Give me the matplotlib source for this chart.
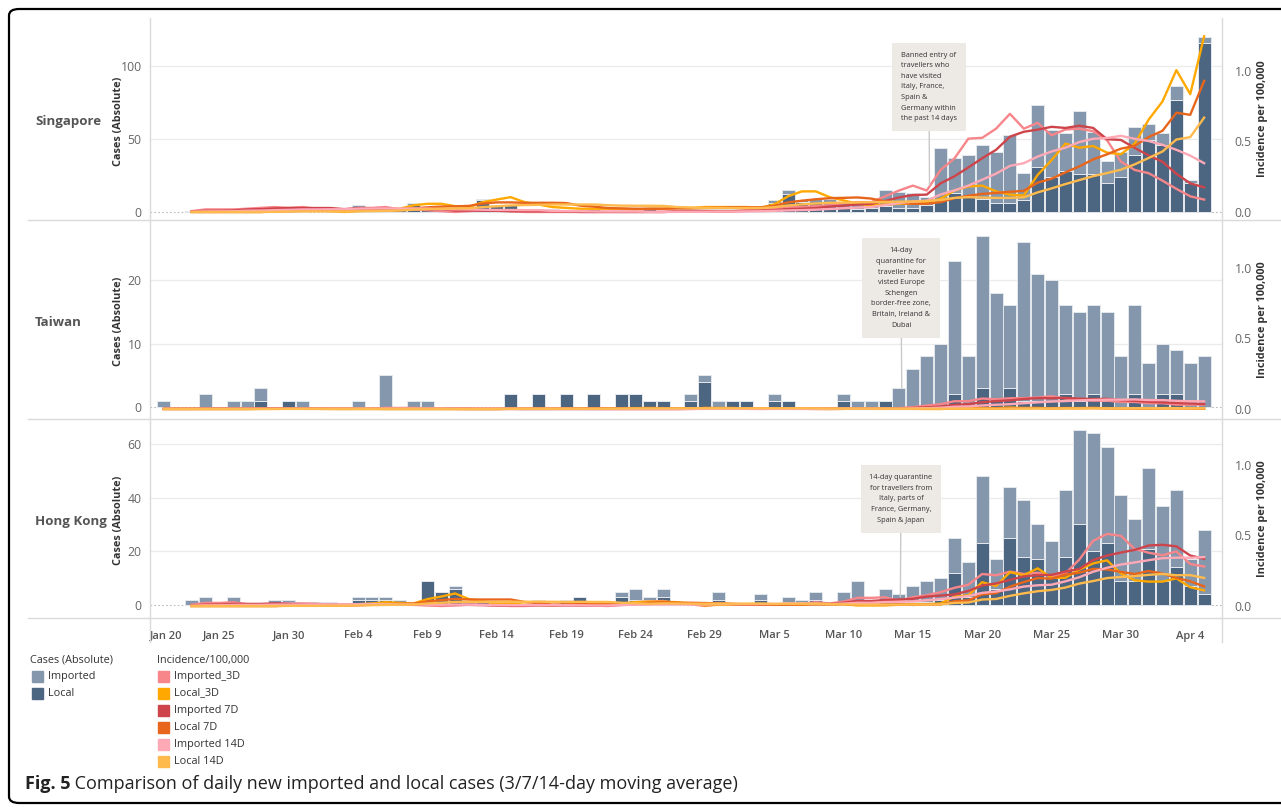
import numpy as np
import matplotlib.pyplot as plt
from matplotlib.patches import FancyBboxPatch, Rectangle
from matplotlib.lines import Line2D

plt.rcParams['font.family'] = ['Open Sans', 'DejaVu Sans']

W, H = 1281, 810

# day index: 0 = Jan 20 ... 76 = Apr 5
days = np.arange(1, 77)
tick_days = [0, 5, 10, 15, 20, 25, 30, 35, 40, 45, 50, 55, 60, 65, 70, 75]
tick_labels = ['Jan 20', 'Jan 25', 'Jan 30', 'Feb 4', 'Feb 9', 'Feb 14', 'Feb 19', 'Feb 24',
               'Feb 29', 'Mar 5', 'Mar 10', 'Mar 15', 'Mar 20', 'Mar 25', 'Mar 30', 'Apr 4']

# ---------------- Singapore ----------------
sg_imported = [0, 0, 1, 2, 0, 1, 3, 1, 2, 2, 2, 0, 1, 0, 4, 1, 1, 1, 1, 0,
               0, 0, 1, 1, 0, 0, 0, 0, 0, 0, 0, 0, 0, 0, 0, 0, 0, 1, 0, 0,
               1, 0, 1, 1, 2, 3, 1, 3, 4, 4, 4, 4, 11, 11, 10, 5, 36, 24, 29, 37,
               35, 47, 19, 42, 32, 26, 43, 29, 15, 17, 19, 11, 8, 9, 2, 4]
sg_local = [0, 0, 0, 0, 0, 0, 0, 0, 1, 1, 1, 0, 0, 0, 1, 1, 1, 2, 5, 3,
            2, 2, 2, 8, 5, 5, 2, 2, 2, 1, 1, 2, 1, 1, 1, 2, 1, 2, 2, 2,
            2, 2, 2, 1, 6, 12, 7, 6, 5, 3, 2, 3, 4, 3, 3, 5, 8, 13, 10, 9,
            6, 6, 8, 31, 24, 28, 26, 26, 20, 24, 39, 49, 46, 77, 20, 116]
sg_line_start = 3
sg_imp_3d = [.006, .018, .018, .018, .023, .029, .035, .029,
             .035, .023, .018, .006, .029, .029, .035, .018, .018, .012,
             .006, 0, .006, .012, .012, .006, 0, 0, 0, 0,
             0, 0, 0, 0, 0, 0, 0, .006, .006, .006,
             .006, .006, .012, .012, .023, .035, .035, .041, .047, .064,
             .070, .070, .111, .152, .187, .152, .298, .380, .520, .526,
             .591, .696, .591, .632, .544, .585, .591, .573, .509, .357,
             .298, .275, .222, .164, .111, .088]
sg_loc_3d = [0, 0, 0, 0, 0, 0, .006, .012,
             .018, .012, .006, 0, .006, .012, .018, .023, .047, .058,
             .058, .041, .035, .070, .088, .105, .070, .053, .035, .029,
             .023, .023, .023, .023, .018, .023, .023, .029, .029, .035,
             .035, .035, .035, .029, .053, .111, .146, .146, .105, .082,
             .058, .047, .053, .058, .058, .064, .094, .152, .181, .187,
             .146, .123, .117, .263, .368, .485, .456, .468, .421, .409,
             .485, .655, .784, 1.006, .836, 1.246]
sg_imp_7d = [.003, .008, .008, .010, .018, .020, .025, .028,
             .028, .028, .028, .020, .028, .025, .023, .020, .023, .020,
             .020, .010, .010, .010, .008, .005, .005, .005, .005, .003,
             0, 0, 0, 0, 0, 0, 0, .003, .003, .003,
             .005, .005, .008, .010, .013, .020, .023, .028, .038, .045,
             .053, .058, .078, .103, .120, .123, .203, .253, .316, .381,
             .441, .534, .569, .584, .604, .596, .612, .596, .516, .511,
             .454, .401, .356, .271, .203, .175]
sg_loc_7d = [0, 0, 0, 0, 0, 0, .003, .005,
             .008, .008, .008, .008, .010, .010, .010, .013, .025, .033,
             .038, .040, .043, .060, .068, .068, .065, .065, .065, .063,
             .045, .038, .028, .025, .023, .023, .023, .025, .025, .028,
             .030, .033, .033, .033, .043, .068, .080, .090, .098, .100,
             .103, .095, .075, .065, .058, .058, .070, .098, .115, .128,
             .135, .143, .150, .208, .236, .281, .323, .373, .409, .449,
             .469, .531, .576, .704, .689, .930]
sg_imp_14d = [.001, .004, .004, .005, .009, .010, .013, .015,
              .018, .018, .019, .019, .024, .025, .025, .024, .025, .024,
              .020, .019, .018, .016, .014, .014, .013, .013, .008, .006,
              .005, .004, .003, .003, .003, .001, 0, .001, .001, .001,
              .003, .003, .004, .005, .008, .011, .013, .016, .021, .026,
              .031, .035, .049, .063, .074, .080, .124, .153, .187, .229,
              .272, .327, .346, .393, .429, .456, .496, .519, .525, .540,
              .519, .503, .476, .441, .400, .346]
sg_loc_14d = [0, 0, 0, 0, 0, 0, .001, .003,
              .004, .004, .004, .004, .005, .006, .008, .010, .016, .020,
              .023, .025, .026, .035, .040, .046, .049, .051, .053, .053,
              .053, .053, .048, .045, .044, .044, .043, .035, .031, .028,
              .028, .028, .028, .028, .034, .046, .054, .060, .065, .066,
              .068, .069, .071, .073, .074, .078, .085, .100, .105, .102,
              .100, .100, .104, .139, .167, .198, .226, .254, .276, .300,
              .338, .383, .429, .514, .531, .669]

# ---------------- Taiwan ----------------
tw_imported = [1, 0, 0, 2, 0, 1, 1, 2, 0, 0, 1, 0, 0, 0, 1, 0, 5, 0, 1, 1,
               0, 0, 0, 0, 0, 0, 0, 0, 0, 0, 0, 0, 0, 0, 0, 0, 0, 0, 1, 1,
               1, 0, 0, 0, 1, 0, 0, 0, 0, 1, 1, 1, 0, 3, 6, 8, 10, 21, 8, 24,
               17, 13, 25, 20, 19, 14, 14, 14, 14, 8, 14, 7, 8, 7, 7, 8]
tw_local = [0, 0, 0, 0, 0, 0, 0, 1, 0, 1, 0, 0, 0, 0, 0, 0, 0, 0, 0, 0,
            0, 0, 0, 0, 0, 2, 0, 2, 0, 2, 0, 2, 0, 2, 2, 1, 1, 0, 1, 4,
            0, 1, 1, 0, 1, 1, 0, 0, 0, 1, 0, 0, 1, 0, 0, 0, 0, 2, 0, 3,
            1, 3, 1, 1, 1, 2, 1, 2, 1, 0, 2, 0, 2, 2, 0, 0]
tw_line_start = 1
tw_imp_3d = [.001, .001, .001, .003, .003, .004, .003, .006, .004, .003,
             .001, .001, .001, 0, .001, .001, .008, .007, .008, .003,
             .003, .001, 0, 0, 0, 0, 0, 0, 0, 0,
             0, 0, 0, 0, 0, 0, 0, 0, .001, .003,
             .004, .003, .001, 0, .001, .001, .001, 0, 0, .001,
             .003, .004, .003, .006, .013, .024, .034, .055, .055, .074,
             .069, .076, .077, .081, .090, .074, .066, .059, .059, .050,
             .050, .041, .041, .031, .031, .031]
tw_loc_3d = [0, 0, 0, 0, 0, 0, 0, .001, .001, .003,
             .001, .001, 0, 0, 0, 0, 0, 0, 0, 0,
             0, 0, 0, 0, 0, .003, .003, .006, .003, .006,
             .003, .006, .003, .006, .006, .007, .006, .003, .003, .007,
             .007, .007, .003, .003, .003, .003, .003, .001, 0, .001,
             .001, .001, .001, .001, .001, 0, 0, .003, .003, .007,
             .006, .010, .007, .007, .004, .006, .006, .007, .006, .004,
             .004, .003, .006, .006, .006, .003]
tw_imp_7d = [.001, .001, .001, .002, .002, .002, .003, .004, .004, .004,
             .003, .003, .002, .002, .001, .001, .004, .004, .004, .005,
             .005, .004, .004, .001, .001, .001, 0, 0, 0, 0,
             0, 0, 0, 0, 0, 0, 0, 0, .001, .001,
             .002, .002, .002, .002, .002, .001, .001, .001, .001, .001,
             .002, .002, .002, .004, .007, .012, .017, .029, .034, .048,
             .056, .061, .071, .077, .076, .079, .073, .071, .072, .062,
             .058, .051, .047, .043, .039, .035]
tw_loc_7d = [0, 0, 0, 0, 0, 0, 0, .001, .001, .001,
             .001, .001, .001, .001, .001, .001, 0, 0, 0, 0,
             0, 0, 0, 0, 0, .001, .001, .002, .002, .004,
             .004, .005, .004, .005, .005, .005, .005, .005, .004, .007,
             .005, .005, .005, .004, .005, .005, .002, .002, .002, .002,
             .002, .001, .001, .001, .001, .001, .001, .002, .002, .003,
             .004, .005, .006, .007, .006, .007, .006, .007, .005, .005,
             .005, .005, .005, .005, .004, .004]
tw_imp_14d = [0, 0, 0, .001, .001, .001, .002, .002, .002, .002,
              .002, .002, .002, .002, .002, .002, .004, .004, .004, .004,
              .004, .003, .003, .003, .002, .002, .002, .002, .002, .002,
              .001, .001, 0, 0, 0, 0, 0, 0, 0, .001,
              .001, .001, .001, .001, .001, .001, .001, .001, .001, .002,
              .002, .002, .002, .002, .004, .006, .009, .016, .018, .025,
              .030, .034, .041, .047, .053, .056, .061, .064, .066, .066,
              .068, .063, .063, .058, .055, .054]
tw_loc_14d = [0, 0, 0, 0, 0, 0, 0, 0, 0, .001,
              .001, .001, .001, .001, .001, .001, .001, .001, .001, .001,
              .001, 0, 0, 0, 0, .001, .001, .001, .001, .002,
              .002, .002, .002, .003, .004, .004, .004, .004, .005, .005,
              .005, .005, .005, .005, .005, .005, .005, .004, .003, .003,
              .003, .003, .003, .002, .002, .002, .001, .002, .002, .002,
              .002, .003, .004, .004, .004, .005, .005, .005, .005, .005,
              .006, .005, .006, .006, .005, .005]

# ---------------- Hong Kong ----------------
hk_imported = [0, 0, 2, 3, 0, 3, 0, 0, 2, 1, 1, 1, 0, 0, 1, 1, 1, 1, 0, 0,
               0, 1, 1, 0, 0, 0, 0, 1, 0, 1, 0, 0, 0, 2, 4, 1, 3, 0, 0, 0,
               3, 0, 0, 2, 0, 2, 1, 3, 0, 4, 9, 0, 5, 3, 6, 8, 8, 13, 13, 25,
               11, 19, 21, 13, 14, 25, 35, 44, 36, 32, 23, 30, 28, 29, 10, 24]
hk_local = [0, 0, 0, 0, 0, 0, 0, 0, 0, 1, 0, 0, 1, 0, 2, 2, 2, 1, 1, 9,
            5, 6, 0, 2, 1, 1, 0, 1, 0, 1, 3, 0, 1, 3, 2, 2, 3, 1, 0, 0,
            2, 0, 0, 2, 0, 1, 1, 2, 0, 1, 0, 0, 1, 1, 1, 1, 2, 12, 3, 23,
            6, 25, 18, 17, 10, 18, 30, 20, 23, 9, 9, 21, 9, 14, 7, 4]
hk_line_start = 3
hk_imp_3d = [.009, .022, .022, .027, .013, .013, .009, .013,
             .018, .013, .009, .004, .004, .009, .013, .013, .009, .004,
             0, .004, .009, .009, .004, 0, 0, .004, .004, .009,
             .004, .004, 0, .009, .027, .031, .036, .018, .013, 0,
             .013, .013, .013, .009, .009, .018, .013, .027, .018, .031,
             .058, .058, .062, .036, .062, .076, .098, .129, .151, .227,
             .218, .244, .227, .236, .213, .231, .329, .462, .511, .498,
             .404, .378, .360, .387, .298, .280]
hk_loc_3d = [0, 0, 0, 0, 0, 0, 0, .004,
             .004, .004, .004, .004, .013, .018, .027, .022, .018, .049,
             .067, .089, .049, .036, .013, .018, .009, .009, .004, .009,
             .018, .018, .018, .018, .027, .031, .031, .027, .018, .004,
             .009, .009, .009, .009, .009, .013, .009, .018, .013, .013,
             .004, .004, .004, .009, .013, .013, .018, .067, .076, .169,
             .142, .240, .218, .267, .200, .200, .258, .302, .324, .231,
             .182, .173, .173, .196, .133, .111]
hk_imp_7d = [.004, .010, .010, .015, .015, .015, .019, .017,
             .013, .015, .010, .010, .011, .010, .010, .010, .008, .008,
             .008, .008, .008, .006, .004, .004, .004, .006, .004, .004,
             .004, .004, .004, .008, .013, .015, .019, .019, .019, .019,
             .021, .013, .011, .010, .010, .013, .015, .015, .015, .023,
             .036, .036, .042, .046, .051, .067, .074, .082, .107, .145,
             .160, .185, .210, .219, .221, .244, .263, .326, .358, .379,
             .398, .429, .434, .423, .358, .335]
hk_loc_7d = [0, 0, 0, 0, 0, 0, 0, .002,
             .002, .002, .004, .004, .008, .011, .013, .015, .017, .032,
             .042, .050, .046, .046, .046, .046, .029, .021, .010, .011,
             .013, .011, .011, .017, .019, .023, .027, .023, .023, .021,
             .019, .015, .011, .010, .008, .010, .011, .011, .011, .013,
             .010, .010, .010, .010, .008, .010, .011, .034, .040, .082,
             .091, .137, .170, .198, .194, .223, .236, .263, .259, .242,
             .227, .248, .230, .200, .175, .139]
hk_imp_14d = [.002, .005, .005, .008, .008, .008, .010, .010,
              .011, .012, .012, .012, .013, .014, .013, .011, .011, .009,
              .009, .010, .009, .008, .007, .006, .006, .007, .006, .006,
              .005, .004, .004, .006, .010, .010, .011, .011, .011, .011,
              .014, .013, .013, .014, .014, .016, .017, .018, .014, .017,
              .023, .023, .028, .030, .033, .041, .049, .059, .071, .093,
              .103, .118, .138, .147, .151, .175, .204, .243, .271, .294,
              .309, .325, .339, .343, .342, .347]
hk_loc_14d = [0, 0, 0, 0, 0, 0, 0, .001,
              .001, .001, .002, .002, .004, .006, .008, .009, .010, .018,
              .023, .029, .029, .030, .030, .031, .030, .031, .030, .029,
              .030, .029, .029, .023, .020, .016, .019, .018, .017, .016,
              .018, .017, .017, .018, .015, .016, .016, .015, .013, .012,
              .010, .009, .010, .010, .010, .010, .012, .022, .025, .046,
              .050, .072, .090, .105, .114, .131, .159, .177, .198, .206,
              .212, .221, .227, .218, .219, .199]

# series names, colours
line_names = ['Imported_3D', 'Local_3D', 'Imported 7D', 'Local 7D', 'Imported 14D', 'Local 14D']
line_colors = ['#F7868B', '#FFA800', '#CE444B', '#E8651C', '#FFA9B6', '#FFBA4D']
imp_color = '#8497AC'
loc_color = '#4C6580'
grid_color = '#EBEBEB'
text_color = '#555555'

panels = [
    dict(name='Singapore', imp=sg_imported, loc=sg_local, start=sg_line_start,
         lines=[sg_imp_3d, sg_loc_3d, sg_imp_7d, sg_loc_7d, sg_imp_14d, sg_loc_14d],
         px=(18, 220), ylim=(-5.5, 132.9), y2lim=(-0.057, 1.376), ticks=[0, 50, 100]),
    dict(name='Taiwan', imp=tw_imported, loc=tw_local, start=tw_line_start,
         lines=[tw_imp_3d, tw_loc_3d, tw_imp_7d, tw_loc_7d, tw_imp_14d, tw_loc_14d],
         px=(220, 419), ylim=(-1.89, 29.45), y2lim=(-0.071, 1.340), ticks=[0, 10, 20]),
    dict(name='Hong Kong', imp=hk_imported, loc=hk_local, start=hk_line_start,
         lines=[hk_imp_3d, hk_loc_3d, hk_imp_7d, hk_loc_7d, hk_imp_14d, hk_loc_14d],
         px=(419, 618), ylim=(-4.84, 69.27), y2lim=(-0.085, 1.326), ticks=[0, 20, 40, 60]),
]

notes = [
    ("Banned entry of\ntravellers who\nhave visited\nItaly, France,\nSpain &\nGermany within\nthe past 14 days",
     'left', (56.2, 18.5), (929, 810 - 87)),
    ("14-day\nquarantine for\ntraveller have\nvisted Europe\nSchengen\nborder-free zone,\nBritain, Ireland &\nDubai",
     'center', (54.2, 3.0), (901, 810 - 288)),
    ("14-day quarantine\nfor travellers from\nItaly, parts of\nFrance, Germany,\nSpain & Japan",
     'center', (54.1, 3.0), (901, 810 - 499)),
]

fig = plt.figure(figsize=(W / 100, H / 100), dpi=100)
fig.patch.set_facecolor('white')


def fx(x):
    return x / W


def fy(y):
    return 1 - y / H


x_left, x_right = 150, 1222
xmax = (x_right - x_left) / 13.87
d = np.array(days)

for i, p in enumerate(panels):
    top, bot = p['px']
    ax = fig.add_axes([fx(x_left), fy(bot), fx(x_right) - fx(x_left), (bot - top) / H])
    ax.set_xlim(0, xmax)
    ax.set_ylim(*p['ylim'])
    for s in ax.spines.values():
        s.set_visible(False)

    imp = np.array(p['imp'])
    loc = np.array(p['loc'])
    for t in p['ticks'][1:]:
        ax.axhline(t, color=grid_color, lw=0.9, zorder=0)
    ax.axhline(0, color='#BBBBBB', lw=0.8, ls=(0, (1.5, 2)), zorder=0)

    m = loc > 0
    ax.bar(d[m], loc[m], width=0.94, color=loc_color, edgecolor='#E4E8EC', lw=0.7, zorder=2)
    m = imp > 0
    ax.bar(d[m], imp[m], bottom=loc[m], width=0.94, color=imp_color,
           edgecolor='#E4E8EC', lw=0.7, zorder=2)

    ax.set_yticks(p['ticks'])
    ax.tick_params(axis='y', length=0, pad=6, labelsize=8.8, labelcolor='#666666')
    ax.set_xticks(tick_days)
    if i == 2:
        ax.set_xticklabels(tick_labels)
        ax.tick_params(axis='x', length=0, pad=9, labelsize=8, labelcolor=text_color)
        for k, lab in enumerate(ax.get_xticklabels()):
            lab.set_fontweight('semibold')
            if k == 0:
                lab.set_horizontalalignment('left')
    else:
        ax.set_xticklabels([])
        ax.tick_params(axis='x', length=0)

    ax2 = ax.twinx()
    ax2.set_ylim(*p['y2lim'])
    for s in ax2.spines.values():
        s.set_visible(False)
    ax2.set_yticks([0, 0.5, 1.0])
    ax2.set_yticklabels(['0.0', '0.5', '1.0'])
    ax2.tick_params(axis='y', length=0, pad=9, labelsize=8.8, labelcolor='#666666')
    line_x = np.arange(p['start'], 77)
    for vals, col in zip(p['lines'], line_colors):
        ax2.plot(line_x, vals, color=col, lw=1.7, solid_joinstyle='round', zorder=3)

    txt, align, xy, xyt = notes[i]
    ax2.annotate(txt, xy=(xy[0], xy[1]), xycoords=ax.transData,
                 xytext=xyt, textcoords='figure pixels', ha='center', va='center',
                 multialignment=align, fontsize=5.3, color='#333333', linespacing=1.73,
                 bbox=dict(boxstyle='square,pad=1.2', fc='#EDEAE6', ec='none'),
                 arrowprops=dict(arrowstyle='-', color='#C9C9C9', lw=1.0,
                                 shrinkA=0, shrinkB=0), zorder=5)

    mid = (top + bot) / 2
    fig.text(fx(35), fy(mid + 3), p['name'], fontsize=9.5, fontweight='bold',
             color=text_color, ha='left', va='center')
    fig.text(fx(118), fy(mid + 2), 'Cases (Absolute)', rotation=90, fontsize=7.8,
             fontweight='bold', color='#333333', ha='center', va='center')
    fig.text(fx(1263), fy(mid), 'Incidence per 100,000', rotation=90, fontsize=7.8,
             fontweight='bold', color='#333333', ha='center', va='center')

# panel separators and column dividers
for y in (220, 419, 618):
    fig.add_artist(Line2D([fx(28), fx(1281)], [fy(y), fy(y)], color='#DADADA', lw=1.0))
for x in (x_left, x_right):
    fig.add_artist(Line2D([fx(x), fx(x)], [fy(18), fy(642)], color='#DADADA', lw=1.0))

# legend
fig.text(fx(30), fy(660), 'Cases (Absolute)', fontsize=7.8, color='#333333', va='center')
for k, (lab, col) in enumerate([('Imported', imp_color), ('Local', loc_color)]):
    yc = 676 + 17 * k
    fig.add_artist(Rectangle((fx(32), fy(yc + 5.5)), 11 / W, 11 / H, color=col,
                             transform=fig.transFigure))
    fig.text(fx(48), fy(yc), lab, fontsize=7.8, color='#333333', va='center')
fig.text(fx(157), fy(660), 'Incidence/100,000', fontsize=7.8, color='#333333', va='center')
for k, (lab, col) in enumerate(zip(line_names, line_colors)):
    yc = 676 + 17 * k
    fig.add_artist(Rectangle((fx(158), fy(yc + 5.5)), 11 / W, 11 / H, color=col,
                             transform=fig.transFigure))
    fig.text(fx(174), fy(yc), lab, fontsize=7.8, color='#333333', va='center')

# caption
cap = fig.text(fx(25), fy(784), 'Fig. 5', fontsize=13, fontweight='bold', color='#222222',
               va='center', ha='left')
ax.annotate(' Comparison of daily new imported and local cases (3/7/14-day moving average)',
            xy=(1, 0.5), xycoords=cap, va='center', ha='left',
            fontsize=13, color='#222222', annotation_clip=False)

# outer frame, open past the right edge
fig.add_artist(FancyBboxPatch((fx(9), fy(803)), fx(1290), 794 / H,
                              boxstyle='round,pad=0,rounding_size=0.008',
                              fc='none', ec='black', lw=1.6, transform=fig.transFigure))

fig.savefig('out.png', dpi=100)
